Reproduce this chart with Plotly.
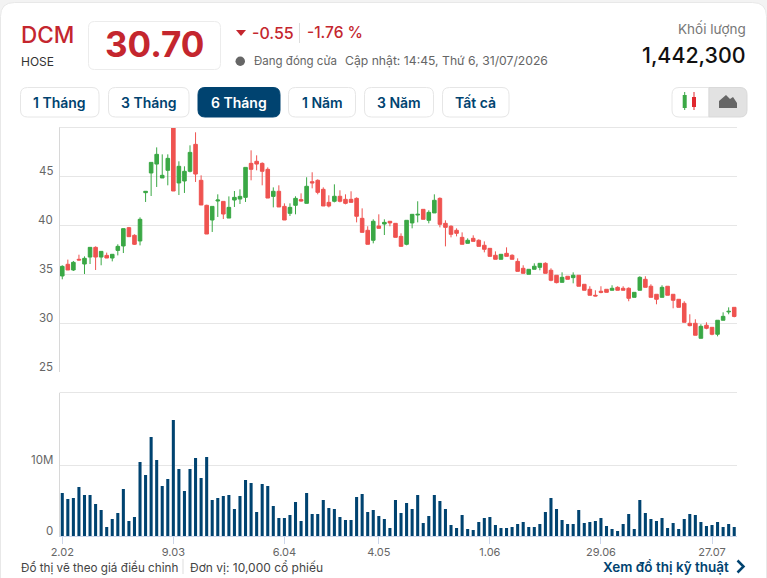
import plotly.graph_objects as go
from plotly.subplots import make_subplots

W = 767
H = 578

# price data, one value per session
opens = [34.83, 36.02, 35.44, 36.53, 36.05, 36.76, 37.75, 36.76, 36.93, 36.66, 37.44, 37.89, 39.76, 38.98, 38.40, 43.33, 45.34, 46.25, 44.83, 45.61,
         50.00, 44.32, 44.52, 45.51, 48.26, 44.59, 42.04, 40.54, 42.48, 42.44, 40.74, 42.58, 42.68, 42.85, 46.32, 46.53, 46.32, 45.71, 42.95, 43.47,
         41.93, 41.22, 42.04, 42.62, 42.24, 44.45, 44.59, 43.67, 42.34, 42.45, 42.96, 42.65, 42.65, 42.75, 40.71, 39.49, 38.47, 39.93, 40.13, 40.41,
         40.20, 38.87, 38.06, 40.24, 41.05, 41.63, 40.51, 41.26, 42.75, 40.20, 39.90, 39.49, 38.77, 38.16, 38.67, 38.47, 37.96, 37.65, 36.94, 36.53,
         37.14, 36.94, 36.32, 35.61, 35.00, 35.51, 35.71, 36.12, 35.41, 34.90, 34.18, 34.80, 34.66, 34.90, 33.98, 33.47, 32.86, 33.27, 33.47, 33.37,
         33.67, 33.57, 33.57, 32.65, 33.37, 34.49, 33.78, 32.96, 32.65, 33.78, 32.96, 32.45, 32.04, 30.00, 30.00, 28.47, 29.80, 29.59, 28.88, 30.31,
         31.16, 31.63]
highs = [35.92, 36.50, 36.36, 37.00, 36.83, 37.75, 37.85, 37.34, 37.21, 37.04, 38.06, 39.66, 39.83, 39.08, 40.81, 43.47, 46.42, 47.95, 47.24, 47.24,
         50.00, 46.53, 46.02, 48.16, 49.49, 45.10, 42.10, 41.93, 43.16, 42.44, 42.95, 43.50, 43.67, 45.91, 47.65, 47.14, 46.42, 45.91, 43.87, 44.08,
         42.24, 42.24, 42.96, 43.26, 44.90, 45.41, 44.69, 43.87, 43.06, 44.18, 43.57, 43.16, 43.47, 42.85, 41.73, 39.90, 40.61, 41.12, 40.61, 40.41,
         40.20, 39.18, 40.51, 41.12, 42.45, 41.63, 41.53, 43.16, 42.85, 40.51, 40.00, 39.69, 39.28, 38.67, 38.98, 38.57, 38.36, 37.65, 37.34, 37.04,
         37.75, 37.04, 36.63, 35.92, 35.51, 36.12, 36.12, 36.22, 35.61, 34.90, 35.20, 34.80, 35.20, 34.90, 33.98, 33.78, 33.37, 33.78, 33.47, 33.88,
         33.78, 33.78, 33.67, 33.16, 34.80, 34.80, 33.98, 32.96, 33.88, 33.78, 32.96, 32.45, 32.25, 30.92, 30.41, 29.90, 30.10, 29.59, 30.31, 31.12,
         31.63, 31.63]
lows = [34.49, 35.44, 35.34, 36.42, 35.03, 36.05, 35.44, 35.92, 36.66, 36.32, 36.93, 37.17, 38.81, 37.99, 37.95, 42.38, 42.99, 43.91, 44.83, 44.08,
        43.50, 43.09, 43.30, 45.40, 44.42, 42.07, 39.11, 39.32, 40.85, 40.64, 40.74, 41.87, 42.17, 42.38, 44.59, 45.61, 44.08, 42.78, 41.83, 41.87,
        40.54, 40.95, 41.12, 42.41, 42.24, 43.77, 43.16, 41.97, 41.83, 42.34, 42.34, 42.14, 42.34, 40.30, 39.28, 38.06, 38.16, 39.69, 39.01, 39.90,
        38.77, 37.85, 37.96, 39.69, 40.30, 40.61, 40.20, 41.26, 39.79, 37.85, 38.77, 38.87, 38.06, 38.16, 38.36, 37.85, 37.24, 36.83, 36.53, 36.53,
        36.83, 36.53, 35.30, 35.10, 35.00, 35.51, 35.41, 35.10, 34.29, 34.08, 34.18, 34.49, 34.08, 33.78, 33.37, 32.86, 32.76, 33.06, 33.16, 33.37,
        33.37, 33.37, 32.25, 32.65, 33.37, 33.67, 32.65, 31.94, 32.65, 32.86, 31.53, 31.63, 30.10, 29.69, 28.78, 28.47, 29.39, 28.78, 28.67, 30.31,
        30.92, 30.61]
closes = [35.81, 35.44, 36.22, 36.46, 36.63, 37.75, 36.76, 37.34, 36.66, 37.04, 37.85, 39.66, 38.84, 38.06, 40.61, 43.47, 46.42, 47.24, 45.10, 46.83,
          43.50, 46.02, 45.51, 47.44, 45.23, 42.07, 39.11, 41.93, 42.58, 41.15, 41.83, 42.85, 42.95, 45.91, 45.71, 46.25, 45.51, 42.78, 43.47, 41.87,
          40.54, 41.83, 42.75, 42.48, 43.98, 44.32, 43.36, 41.97, 41.97, 42.96, 42.45, 42.24, 42.34, 40.92, 39.28, 38.06, 40.41, 39.69, 40.30, 40.24,
          38.77, 37.85, 40.51, 41.12, 41.12, 40.61, 41.32, 42.55, 40.10, 39.79, 39.08, 39.18, 38.06, 38.47, 38.36, 37.85, 37.55, 36.83, 36.53, 37.04,
          36.83, 36.53, 35.30, 35.10, 35.51, 35.82, 36.12, 35.10, 34.39, 34.15, 34.69, 34.49, 34.90, 33.78, 33.37, 32.86, 32.79, 33.16, 33.16, 33.57,
          33.37, 33.37, 32.55, 33.16, 34.69, 33.67, 32.65, 32.45, 33.67, 32.86, 32.35, 31.63, 30.10, 29.76, 28.78, 29.69, 29.49, 28.88, 30.31, 30.71,
          31.22, 30.70]

# volume in millions of shares
volumes = [6.07, 5.23, 5.37, 6.92, 5.79, 5.79, 4.53, 3.69, 1.31, 2.43, 3.27, 6.64, 2.15, 2.71, 10.42, 8.60, 13.93, 10.70, 7.06, 8.04,
           16.31, 9.44, 6.36, 9.44, 10.98, 8.18, 11.12, 5.09, 5.37, 5.65, 5.79, 3.83, 5.65, 7.90, 7.48, 3.41, 7.34, 7.06, 4.25, 2.57,
           2.57, 2.99, 4.81, 2.15, 6.07, 3.13, 3.13, 5.09, 3.97, 3.83, 2.71, 2.29, 2.29, 5.51, 5.93, 3.41, 3.69, 2.85, 2.43, 1.17,
           5.09, 3.27, 4.67, 3.83, 5.79, 1.87, 2.85, 5.79, 4.95, 3.83, 1.59, 1.17, 2.99, 1.03, 0.89, 2.01, 2.57, 2.71, 1.59, 1.17,
           1.17, 1.31, 1.73, 2.01, 1.31, 1.31, 1.73, 3.41, 5.37, 3.83, 2.29, 1.73, 1.73, 3.69, 1.87, 2.01, 2.15, 2.57, 1.45, 1.03,
           0.75, 1.73, 3.13, 1.03, 5.09, 3.27, 2.43, 2.15, 2.57, 1.17, 1.87, 1.03, 2.43, 3.13, 2.99, 2.01, 1.45, 1.59, 2.01, 1.31,
           1.73, 1.31]

sessions = list(range(len(closes)))

date_pos = [0, 20, 40, 57, 77, 97, 117]
date_labels = ["2.02", "9.03", "6.04", "4.05", "1.06", "29.06", "27.07"]
price_ticks = [25, 30, 35, 40, 45]
volume_ticks = [0, 10]
volume_labels = ["0", "10M"]
range_buttons = ["1 Tháng", "3 Tháng", "6 Tháng", "1 Năm", "3 Năm", "Tất cả"]

RED = "#ef5350"
GREEN = "#3aa845"
NAVY = "#004370"
TEXT_RED = "#c4262e"
GRID = "#e6e6e6"
FONT = "Inter"


# pixel helpers for the header and footer
def px(x):
    return x / W


def py(y):
    return 1 - y / H


def label(x, y, text, size, color, anchor="left", weight=400):
    return dict(x=px(x), y=py(y), xref="paper", yref="paper", text=text, showarrow=False, borderpad=0,
                xanchor=anchor, yanchor="middle", font=dict(family=FONT, size=size, color=color, weight=weight))


def axis_label(value, text, yref):
    # labels sit just above their grid line
    return dict(x=px(53.5), y=value, xref="paper", yref=yref, yshift=5.5, text=text, showarrow=False, borderpad=0,
                xanchor="right", yanchor="middle", font=dict(family=FONT, size=11.5, color="#666666"))


def round_box(x0, y0, x1, y1, r, line="#ececec", fill="white", round_left=True, round_right=True):
    rl = r if round_left else 0
    rr = r if round_right else 0
    path = (f"M {px(x0 + rl)} {py(y0)} L {px(x1 - rr)} {py(y0)} Q {px(x1)} {py(y0)} {px(x1)} {py(y0 + rr)} "
            f"L {px(x1)} {py(y1 - rr)} Q {px(x1)} {py(y1)} {px(x1 - rr)} {py(y1)} "
            f"L {px(x0 + rl)} {py(y1)} Q {px(x0)} {py(y1)} {px(x0)} {py(y1 - rl)} "
            f"L {px(x0)} {py(y0 + rl)} Q {px(x0)} {py(y0)} {px(x0 + rl)} {py(y0)} Z")
    return dict(type="path", path=path, xref="paper", yref="paper", fillcolor=fill,
                line=dict(color=line, width=1), layer="below")


def rect(x0, y0, x1, y1, fill):
    return dict(type="rect", xref="paper", yref="paper", x0=px(x0), x1=px(x1), y0=py(y0), y1=py(y1),
                fillcolor=fill, line=dict(width=0))


def hline(x0, x1, y, color=GRID):
    return dict(type="line", xref="paper", yref="paper", x0=px(x0), x1=px(x1), y0=py(y), y1=py(y),
                line=dict(color=color, width=1))


def vline(x, y0, y1, color="#dddddd"):
    return dict(type="line", xref="paper", yref="paper", x0=px(x), x1=px(x), y0=py(y0), y1=py(y1),
                line=dict(color=color, width=1))


def poly(points, fill):
    path = "M " + " L ".join(f"{px(x)} {py(y)}" for x, y in points) + " Z"
    return dict(type="path", path=path, xref="paper", yref="paper", fillcolor=fill, line=dict(width=0))


fig = make_subplots(rows=2, cols=1, shared_xaxes=False)

fig.add_trace(go.Candlestick(x=sessions, open=opens, high=highs, low=lows, close=closes,
                             increasing=dict(line=dict(color=GREEN, width=1), fillcolor=GREEN),
                             decreasing=dict(line=dict(color=RED, width=1), fillcolor=RED),
                             whiskerwidth=0, showlegend=False), row=1, col=1)
fig.add_trace(go.Bar(x=sessions, y=volumes, marker=dict(color=NAVY, line=dict(width=0)), showlegend=False), row=2, col=1)

# price panel
fig.update_xaxes(domain=[px(59.5), px(737)], range=[-0.5, 121.5], showgrid=False, zeroline=False,
                 showline=False, showticklabels=False, ticks="", rangeslider_visible=False, row=1, col=1)
fig.update_yaxes(domain=[py(372.3), py(127.3)], range=[25, 50], tickvals=price_ticks, showticklabels=False,
                 showgrid=True, gridcolor=GRID, gridwidth=1, zeroline=False, showline=True, linecolor="#d8d8d8",
                 ticks="", row=1, col=1)

# volume panel
fig.update_xaxes(domain=[px(59.5), px(737)], range=[-0.5, 121.5], tickvals=date_pos, ticktext=date_labels,
                 showgrid=False, zeroline=False, showline=True, linecolor="#ccd6eb", ticks="outside", ticklen=7,
                 tickcolor="#ccd6eb", ticklabelstandoff=-2, tickfont=dict(family=FONT, size=11, color="#666666"),
                 row=2, col=1)
fig.update_yaxes(domain=[py(536.3), py(392.5)], range=[0, 20.17], tickvals=volume_ticks, showticklabels=False,
                 showgrid=True, gridcolor=GRID, gridwidth=1, zeroline=False,
                 showline=True, linecolor="#d8d8d8", ticks="", row=2, col=1)

shapes = [
    round_box(0.5, 2.5, 766.5, 600, 14, line="#e8e8e8"),
    round_box(88.5, 21.5, 220.5, 69.5, 6),
    poly([(236, 30), (246, 30), (241, 36)], TEXT_RED),
    vline(299.5, 23, 43),
    dict(type="circle", xref="paper", yref="paper", x0=px(235.5), x1=px(245), y0=py(56.5), y1=py(66),
         fillcolor="#666666", line=dict(width=0)),
    hline(59.5, 737, 127.5),
    hline(59.5, 737, 392.5),
    vline(183, 559, 574),
    dict(type="path", path=f"M {px(737.5)} {py(560.5)} L {px(743.5)} {py(566.5)} L {px(737.5)} {py(572.5)}",
         xref="paper", yref="paper", line=dict(color=NAVY, width=2.5)),
]

# range buttons
button_edges = [(20.5, 99), (108.5, 189), (198, 280), (288.5, 355.5), (364.5, 433.5), (442.5, 509)]
annotations = [
    label(19.5, 34, "DCM", 22.5, TEXT_RED, weight=500),
    label(20, 62, "HOSE", 12, "#333333"),
    label(154, 44, "30.70", 35, TEXT_RED, anchor="center", weight=700),
    label(251, 33, "-0.55", 16, TEXT_RED, weight=500),
    label(306, 33, "-1.76 %", 15.5, TEXT_RED, weight=500),
    label(253, 61, "Đang đóng cửa", 11.5, "#666666"),
    label(344, 60, "Cập nhật: 14:45, Thứ 6, 31/07/2026", 12.2, "#666666"),
    label(747, 29, "Khối lượng", 13.5, "#777777", anchor="right"),
    label(747, 55, "1,442,300", 21.4, "#111111", anchor="right", weight=500),
    label(19.5, 567, "Đổ thị vẽ theo giá điều chỉnh", 11.7, "#444444"),
    label(189, 567, "Đơn vị: 10,000 cổ phiếu", 12, "#444444"),
    label(601.5, 567, "Xem đồ thị kỹ thuật", 13.5, NAVY, weight=600),
]
annotations += [axis_label(v, str(v), "y") for v in price_ticks]
annotations += [axis_label(v, t, "y2") for v, t in zip(volume_ticks, volume_labels)]

for name, (x0, x1) in zip(range_buttons, button_edges):
    active = name == "6 Tháng"
    shapes.append(round_box(x0, 87.5, x1, 117, 7, fill=NAVY if active else "white", line=NAVY if active else "#e6e6e6"))
    annotations.append(label((x0 + x1) / 2, 102, name, 14, "white" if active else NAVY, anchor="center", weight=600))

# chart type toggle with its two little icons
shapes += [
    round_box(672, 87.5, 709, 117, 7, line="#e6e6e6", round_right=False),
    round_box(709, 87.5, 747, 117, 7, line="#d9d9d9", fill="#e2e2e2", round_left=False),
    vline(684.7, 92, 110, GREEN),
    rect(682.7, 95, 686.7, 108, GREEN),
    vline(694, 92, 110, "#e0282e"),
    rect(692, 97, 696, 107, "#e0282e"),
    poly([(719, 108), (719, 101), (726, 95), (730, 99), (733, 97), (737, 103), (737, 108)], "#666666"),
]

fig.update_layout(width=W, height=H, margin=dict(l=0, r=0, t=0, b=0, autoexpand=False), autosize=False,
                  paper_bgcolor="#f3f3f3", plot_bgcolor="rgba(0,0,0,0)", bargap=0.45, boxgap=0.08,
                  shapes=shapes, annotations=annotations, showlegend=False)

fig.write_html("out.html", config=dict(displayModeBar=False),
               post_script="document.body.style.margin='0';document.body.style.overflow='hidden';")
